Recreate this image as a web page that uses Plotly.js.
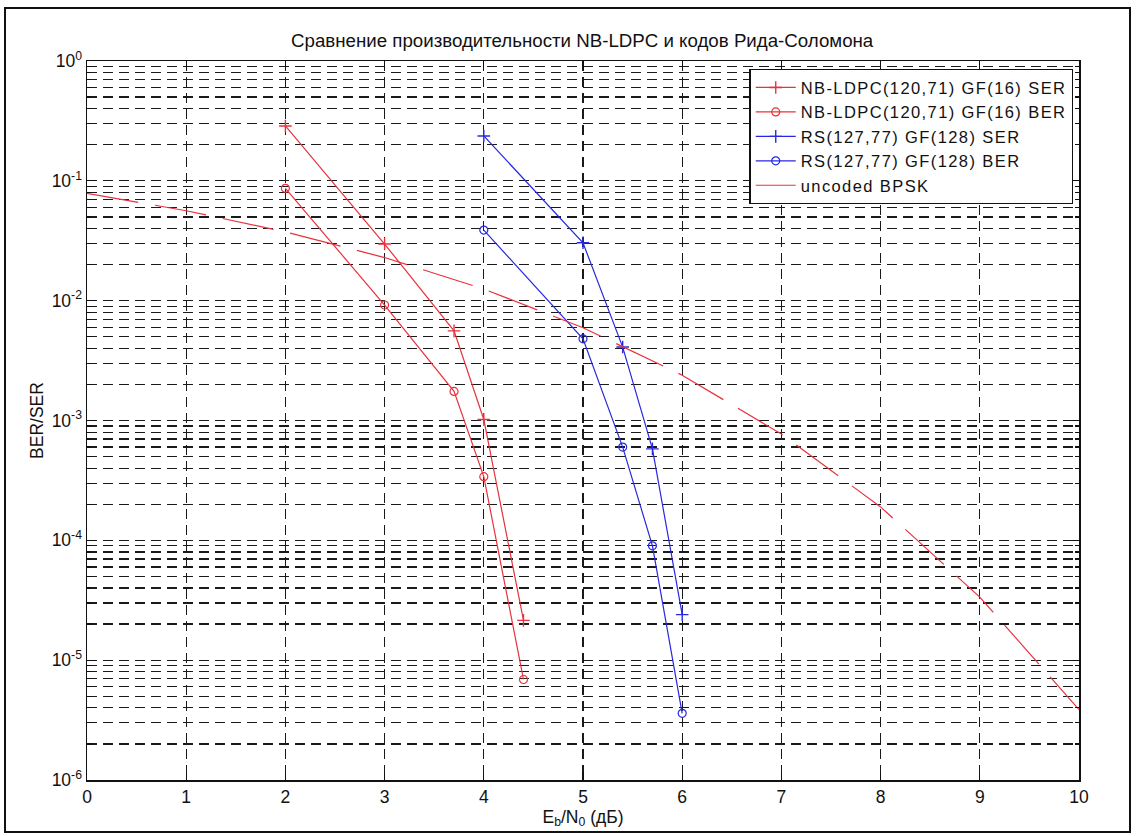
<!DOCTYPE html>
<html>
<head>
<meta charset="utf-8">
<script src="https://cdn.plot.ly/plotly-3.0.1.min.js"></script>
<style>
  html, body { margin: 0; padding: 0; background: #ffffff; }
  #chart { width: 1137px; height: 836px; }
  #frame { position: absolute; left: 4px; top: 7px; width: 1127px; height: 826px; border: 2px solid #111; box-sizing: border-box; pointer-events: none; }
  .legendtext { letter-spacing: 1.4px; }
</style>
</head>
<body>
<div id="chart"></div>
<div id="frame"></div>
<script>
// Eb/N0 (dB) points
const ebnoLdpc = [2, 3, 3.7, 4, 4.4];
const ldpcSer = [0.287, 0.0297, 0.0056, 0.00102, 2.15e-5];
const ldpcBer = [0.0866, 0.0092, 0.00175, 0.00034, 6.9e-6];

const ebnoRs = [4, 5, 5.4, 5.7, 6];
const rsSer = [0.237, 0.0304, 0.0041, 0.00058, 2.4e-5];
const rsBer = [0.0388, 0.0048, 0.0006, 9.0e-5, 3.6e-6];

const ebnoBpsk = [0, 1, 2, 3, 4, 5, 6, 7, 8, 9, 10];
const bpskBer = [0.0786, 0.0563, 0.0375, 0.0229, 0.0125, 0.00595, 0.00239, 0.00077, 0.00019, 3.36e-5, 3.87e-6];

const yTickVals = [1e-6, 1e-5, 1e-4, 1e-3, 1e-2, 1e-1, 1];
const yTickText = ['10<sup>-6</sup>', '10<sup>-5</sup>', '10<sup>-4</sup>', '10<sup>-3</sup>', '10<sup>-2</sup>', '10<sup>-1</sup>', '10<sup>0</sup>'];
const xTickVals = [0, 1, 2, 3, 4, 5, 6, 7, 8, 9, 10];

const names = ['NB-LDPC(120,71) GF(16) SER', 'NB-LDPC(120,71) GF(16) BER', 'RS(127,77) GF(128) SER', 'RS(127,77) GF(128) BER', 'uncoded BPSK'];

const RED = 'rgb(232,50,60)';
const BLUE = 'rgb(40,40,225)';
const GRID = '#1a1a1a';

const traces = [
  { x: ebnoLdpc, y: ldpcSer, name: names[0], mode: 'lines+markers',
    line: { color: RED, width: 1.2 }, marker: { symbol: 'cross-thin', size: 9, line: { color: RED, width: 1.4 } } },
  { x: ebnoLdpc, y: ldpcBer, name: names[1], mode: 'lines+markers',
    line: { color: RED, width: 1.2 }, marker: { symbol: 'circle-open', size: 8, color: RED, line: { color: RED, width: 1.2 } } },
  { x: ebnoRs, y: rsSer, name: names[2], mode: 'lines+markers',
    line: { color: BLUE, width: 1.2 }, marker: { symbol: 'cross-thin', size: 9, line: { color: BLUE, width: 1.4 } } },
  { x: ebnoRs, y: rsBer, name: names[3], mode: 'lines+markers',
    line: { color: BLUE, width: 1.2 }, marker: { symbol: 'circle-open', size: 8, color: BLUE, line: { color: BLUE, width: 1.2 } } },
  { x: ebnoBpsk, y: bpskBer, name: names[4], mode: 'lines',
    line: { color: RED, width: 1.2, dash: '52px,17px' } }
];

const font = 'Liberation Sans, Arial, sans-serif';

const layout = {
  width: 1137, height: 836,
  paper_bgcolor: '#ffffff', plot_bgcolor: '#ffffff',
  margin: { l: 87, r: 58, t: 61, b: 56 },
  font: { family: font, size: 17, color: '#111' },
  title: { text: 'Сравнение производительности NB-LDPC и кодов Рида-Соломона',
           font: { family: font, size: 18.7, color: '#111' }, x: 0.512, xanchor: 'center', y: 0.952, yanchor: 'middle' },
  showlegend: true,
  legend: { x: 0.9944, xanchor: 'right', y: 0.989, yanchor: 'top',
            bgcolor: '#ffffff', bordercolor: '#111', borderwidth: 1.3,
            font: { family: font, size: 16.5, color: '#111' }, tracegroupgap: 0, itemwidth: 40 },
  xaxis: {
    range: [0, 10], tickmode: 'array', tickvals: xTickVals,
    showgrid: true, gridcolor: GRID, griddash: '10px,6px', gridwidth: 1.2,
    zeroline: false, showline: true, linecolor: '#111', linewidth: 1.5, mirror: 'ticks',
    ticks: 'inside', ticklen: 8, tickcolor: '#111', tickwidth: 1.2,
    tickfont: { family: font, size: 17.5, color: '#111' },
    title: { text: 'E<sub>b</sub>/N<sub>0</sub> (дБ)', font: { family: font, size: 17.5, color: '#111' }, standoff: 4 }
  },
  yaxis: {
    type: 'log', range: [-6, 0], tickmode: 'array', tickvals: yTickVals, ticktext: yTickText,
    showgrid: true, gridcolor: GRID, griddash: '10px,6px', gridwidth: 1.2,
    zeroline: false, showline: true, linecolor: '#111', linewidth: 1.5, mirror: 'ticks',
    ticks: 'inside', ticklen: 8, tickcolor: '#111', tickwidth: 1.2,
    tickfont: { family: font, size: 17.5, color: '#111' },
    minor: { dtick: 'D1', showgrid: true, gridcolor: GRID, griddash: '10px,6px', gridwidth: 1.2,
             ticks: 'inside', ticklen: 4, tickcolor: '#111' },
    title: { text: 'BER/SER', font: { family: font, size: 17.5, color: '#111' }, standoff: 3 }
  }
};

Plotly.newPlot('chart', traces, layout, { displayModeBar: false, staticPlot: true });
</script>
</body>
</html>
